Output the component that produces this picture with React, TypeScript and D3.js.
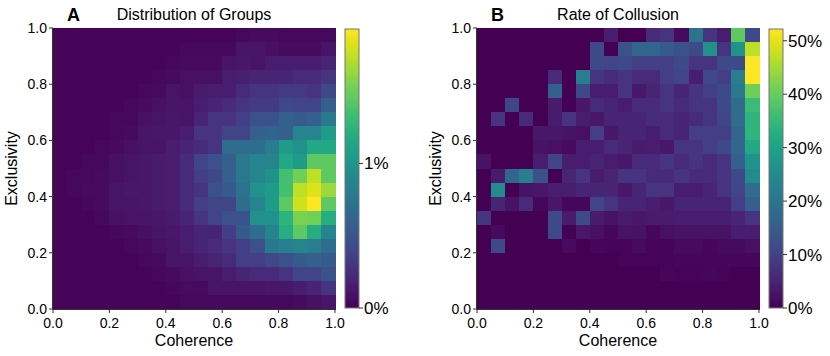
import * as d3 from "d3";

// bin starts (coherence / exclusivity), width 0.05
const binStarts = [0, 0.05, 0.1, 0.15, 0.2, 0.25, 0.3, 0.35, 0.4, 0.45, 0.5, 0.55, 0.6, 0.65, 0.7, 0.75, 0.8, 0.85, 0.9, 0.95];
const axisTicks = [0, 0.2, 0.4, 0.6, 0.8, 1.0];

// share of groups (%) - rows from exclusivity 0.95 (top) down to 0.0, columns coherence 0 -> 0.95
const groupShare = [
  [.02, .02, .02, .02, .02, .02, .02, .02, .02, .02, .02, .02, .02, .04, .06, .06, .04, .04, .04, .04],
  [.02, .02, .02, .02, .02, .02, .02, .02, .02, .04, .04, .04, .04, .10, .10, .08, .06, .06, .06, .10],
  [.02, .02, .02, .02, .02, .02, .02, .02, .04, .06, .06, .06, .10, .12, .10, .15, .15, .15, .15, .19],
  [.02, .02, .02, .02, .02, .02, .02, .04, .06, .08, .08, .08, .15, .17, .19, .19, .19, .23, .23, .29],
  [.02, .02, .02, .02, .02, .02, .04, .06, .10, .08, .14, .15, .15, .23, .29, .29, .33, .33, .29, .42],
  [.02, .02, .02, .02, .02, .04, .06, .08, .10, .10, .15, .19, .23, .29, .33, .33, .42, .39, .39, .58],
  [.02, .02, .02, .02, .04, .04, .08, .10, .12, .10, .19, .29, .29, .35, .48, .48, .58, .54, .58, .77],
  [.02, .02, .02, .02, .04, .06, .10, .12, .12, .15, .29, .29, .39, .39, .58, .62, .58, .87, .87, 1.06],
  [.02, .02, .02, .04, .06, .08, .10, .10, .15, .19, .23, .29, .68, .68, .68, .81, 1.06, .97, 1.16, 1.16],
  [.02, .02, .04, .04, .08, .10, .12, .14, .15, .23, .39, .48, .58, .77, .87, .87, 1.16, 1.06, 1.45, 1.45],
  [.02, .04, .04, .06, .08, .10, .12, .14, .15, .23, .35, .42, .58, .77, .87, .97, 1.35, 1.51, 1.74, 1.45],
  [.02, .04, .06, .06, .10, .12, .12, .14, .15, .23, .29, .48, .54, .73, .97, 1.06, 1.35, 1.74, 1.83, 1.64],
  [.02, .02, .04, .06, .10, .10, .12, .14, .15, .23, .35, .39, .39, .68, .87, 1.06, 1.45, 1.78, 1.93, 1.45],
  [.02, .02, .02, .04, .08, .10, .10, .12, .14, .19, .29, .39, .48, .48, .97, .97, 1.25, 1.54, 1.51, 1.20],
  [.02, .02, .02, .02, .04, .06, .08, .10, .12, .15, .19, .19, .35, .54, .68, .87, 1.20, 1.45, 1.20, .87],
  [.02, .02, .02, .02, .02, .04, .06, .08, .10, .15, .19, .23, .29, .35, .48, .77, .81, .87, .81, .68],
  [.02, .02, .02, .02, .02, .02, .04, .06, .10, .10, .15, .19, .23, .35, .35, .42, .48, .54, .58, .54],
  [.02, .02, .02, .02, .02, .02, .02, .04, .06, .08, .10, .10, .15, .19, .23, .23, .29, .39, .39, .48],
  [.02, .02, .02, .02, .02, .02, .02, .02, .04, .06, .06, .10, .10, .10, .10, .12, .12, .15, .19, .29],
  [.02, .02, .02, .02, .02, .02, .02, .02, .02, .04, .04, .04, .04, .04, .04, .04, .04, .06, .08, .10],
];

// rate of collusion (%) - same layout
const collusionRate = [
  [0, 0, 0, 0, 0, 0, 0, 0, 0, 4.2, 0, 0, 6.3, 7.8, 1.6, 19.8, 7.8, 4.2, 39.2, 11.5],
  [0, 0, 0, 0, 0, 0, 0, 0, 11.5, 0, 13, 17.2, 17.2, 14.6, 13, 11.5, 26.1, 7.8, 26.1, 47],
  [0, 0, 0, 0, 0, 0, 0, 0, 11.5, 10.4, 11.5, 9.4, 9.4, 9.4, 11.5, 7.8, 7.8, 11.5, 11.5, 52.2],
  [0, 0, 0, 0, 0, 6.3, 0, 21.9, 7.8, 6.3, 7.8, 6.3, 6.3, 9.4, 10.4, 4.2, 11.5, 9.4, 21.9, 52.2],
  [0, 0, 0, 0, 0, 15.7, 0, 11.5, 4.2, 4.2, 7.8, 3.1, 5.2, 7.8, 5.2, 7.8, 9.4, 11.5, 20.9, 40.7],
  [0, 0, 10.4, 0, 0, 3.7, 0, 3.1, 6.3, 5.2, 4.2, 6.3, 6.3, 7.8, 6.3, 7.8, 7.8, 11.5, 18.3, 35.5],
  [0, 7.8, 0, 6.3, 0, 3.7, 7.8, 4.2, 3.1, 5.2, 5.2, 5.2, 6.3, 6.3, 5.2, 6.3, 7.8, 10.4, 18.3, 33.9],
  [0, 0, 0, 0, 3.1, 3.1, 2.6, 2.1, 9.4, 3.1, 5.2, 5.2, 4.2, 6.3, 5.2, 9.4, 9.4, 9.4, 16.7, 33.9],
  [0, 0, 0, 0, 2.6, 2.1, 1.6, 4.2, 4.2, 6.3, 5.2, 3.7, 4.2, 3.1, 7.8, 7.8, 9.4, 11.5, 17.2, 31.3],
  [2.6, 0, 0, 0, 4.2, 10.4, 4.2, 4.2, 5.2, 4.2, 3.1, 6.3, 6.3, 7.8, 6.3, 7.8, 6.3, 7.8, 15.7, 27.1],
  [0, 3.7, 17.2, 21.9, 13, 0, 5.2, 7.8, 3.7, 5.2, 7.8, 7.8, 6.3, 6.3, 7.8, 6.3, 6.3, 7.8, 11.5, 25],
  [0, 25, 0, 2.6, 3.1, 4.2, 4.2, 5.2, 5.2, 5.2, 3.1, 5.2, 7.8, 7.8, 4.2, 4.2, 5.2, 7.8, 10.4, 18.3],
  [0, 5.2, 2.6, 6.3, 1, 3.1, 1, 1, 10.4, 7.8, 5.2, 5.2, 4.2, 3.1, 5.2, 5.2, 5.2, 5.2, 9.4, 15.7],
  [7.8, 0, 0, 0, 0, 11.5, 3.7, 11.5, 3.7, 2.6, 3.7, 3.1, 3.7, 3.7, 4.2, 4.2, 4.2, 4.2, 5.2, 7.8],
  [0, 1.6, 0, 0, 0, 11.5, 0, 3.1, 2.1, 1, 2.6, 2.6, 1, 2.1, 2.6, 2.6, 2.6, 2.6, 4.2, 4.2],
  [0, 11.5, 0, 0, 0, 0, 1.6, 0, 1, 0.5, 0.5, 1.6, 0.5, 0.5, 1.6, 1.6, 1, 1.6, 1.6, 2.1],
  [0, 0, 0, 0, 0, 0, 0, 0, 0, 0, 0.5, 0.5, 0.5, 0.5, 1, 1, 1, 1, 1, 1],
  [0, 0, 0, 0, 0, 0, 0, 0, 0, 0, 0, 0, 0, 1, 0.5, 0.5, 1, 0.5, 0, 0],
  [0, 0, 0, 0, 0, 0, 0, 0, 0, 0, 0, 0, 0, 0, 0, 0, 0, 0, 0, 0],
  [0, 0, 0, 0, 0, 0, 0, 0, 0, 0, 0, 0, 0, 0, 0, 0, 0, 0, 0, 0],
];

const groupTicks = [0, 1];
const collusionTicks = [0, 10, 20, 30, 40, 50];

const font = "'Liberation Sans', Arial, Helvetica, sans-serif";
const W = 830;
const H = 356;
const plotTop = 28;
const plotBottom = 309;
const plotSize = 282;

const Panel = ({ left, letter, title, grid, maxVal, cbTicks, id }) => {
  const x = d3.scaleLinear().domain([0, 1]).range([left, left + plotSize]);
  const y = d3.scaleLinear().domain([0, 1]).range([plotBottom, plotTop]);
  const color = d3.scaleSequential(d3.interpolateViridis).domain([0, maxVal]);
  const cw = x(0.05) - x(0);
  const ch = y(0) - y(0.05);
  const nRows = binStarts.length;

  const cbX = left + plotSize + 10;
  const cbW = 14;
  const cy = d3.scaleLinear().domain([0, maxVal]).range([plotBottom - 1, plotTop + 1]);
  const stops = d3.range(0, 1.0001, 0.05);

  return (
    <g>
      <defs>
        <linearGradient id={id} x1="0" y1="1" x2="0" y2="0">
          {stops.map((s, i) => (
            <stop key={i} offset={s} stopColor={d3.interpolateViridis(s)} />
          ))}
        </linearGradient>
      </defs>

      <g shapeRendering="crispEdges">
        {grid.map((row, r) =>
          row.map((v, c) => (
            <rect
              key={`${r}-${c}`}
              x={x(binStarts[c])}
              y={y(binStarts[nRows - 1 - r] + 0.05)}
              width={cw + 0.6}
              height={ch + 0.6}
              fill={color(v)}
            />
          ))
        )}
      </g>

      {/* axes */}
      <line x1={left} x2={left + plotSize} y1={plotBottom + 0.5} y2={plotBottom + 0.5} stroke="#333" />
      <line x1={left - 0.5} x2={left - 0.5} y1={plotTop} y2={plotBottom + 0.5} stroke="#333" />
      {axisTicks.map(t => (
        <g key={`x${t}`}>
          <line x1={x(t)} x2={x(t)} y1={plotBottom} y2={plotBottom + 4} stroke="#333" />
          <text x={x(t)} y={plotBottom + 19} textAnchor="middle" fontSize={14} fontFamily={font}>
            {t.toFixed(1)}
          </text>
        </g>
      ))}
      {axisTicks.map(t => (
        <g key={`y${t}`}>
          <line x1={left - 4} x2={left} y1={y(t)} y2={y(t)} stroke="#333" />
          <text x={left - 6} y={y(t) + 5} textAnchor="end" fontSize={14} fontFamily={font}>
            {t.toFixed(1)}
          </text>
        </g>
      ))}
      <text x={left + plotSize / 2} y={346} textAnchor="middle" fontSize={16} fontFamily={font}>
        Coherence
      </text>
      <text
        transform={`translate(${left - 36},${(plotTop + plotBottom) / 2}) rotate(-90)`}
        textAnchor="middle"
        fontSize={16}
        fontFamily={font}
      >
        Exclusivity
      </text>

      {/* title */}
      <text x={left + 14} y={21} fontSize={18} fontWeight="bold" fontFamily={font}>
        {letter}
      </text>
      <text x={left + plotSize / 2} y={20} textAnchor="middle" fontSize={16} fontFamily={font}>
        {title}
      </text>

      {/* colorbar */}
      <rect x={cbX} y={plotTop + 1} width={cbW} height={plotBottom - plotTop - 2} fill={`url(#${id})`} stroke="#777" strokeWidth={1} />
      {cbTicks.map(t => (
        <g key={`c${t}`}>
          <line x1={cbX + cbW} x2={cbX + cbW + 4} y1={cy(t)} y2={cy(t)} stroke="#333" />
          <text x={cbX + cbW + 5} y={cy(t) + 6} fontSize={17} fontFamily={font}>
            {`${t}%`}
          </text>
        </g>
      ))}
    </g>
  );
};

export default function App() {
  return (
    <svg width={W} height={H} style={{ position: "absolute", left: 0, top: 0, background: "#fff" }}>
      <rect width={W} height={H} fill="#fff" />
      <Panel left={53} letter="A" title="Distribution of Groups" grid={groupShare} maxVal={1.93} cbTicks={groupTicks} id="cbA" />
      <Panel left={477} letter="B" title="Rate of Collusion" grid={collusionRate} maxVal={52.2} cbTicks={collusionTicks} id="cbB" />
    </svg>
  );
}
